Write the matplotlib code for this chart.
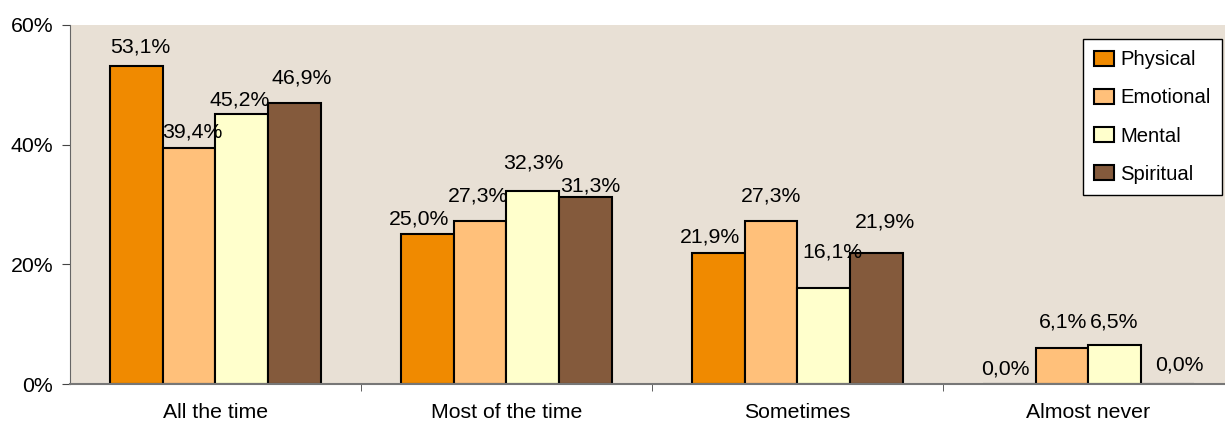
import matplotlib
matplotlib.use("Agg")
import matplotlib.pyplot as plt
import numpy as np

categories = ["All the time", "Most of the time", "Sometimes", "Almost never"]
series_names = ["Physical", "Emotional", "Mental", "Spiritual"]
physical = [53.1, 25.0, 21.9, 0.0]
emotional = [39.4, 27.3, 27.3, 6.1]
mental = [45.2, 32.3, 16.1, 6.5]
spiritual = [46.9, 31.3, 21.9, 0.0]
yticks = [0, 20, 40, 60]

series = [physical, emotional, mental, spiritual]
colors = ["#F08A00", "#FFC07A", "#FFFFCC", "#845A3C"]

# label placement nudges (pixels: dx, gap above bar) mimicking the original's label dodging
label_nudges = [
    [(4, 14), (-8, 10), (-8, 10), (-4, 10)],
    [(3, 11), (-2, 19), (0, 19), (1, 20)],
    [(-2, 8), (0, 22), (8, 30), (-1, 18)],
    [(7, 20), (4, 5), (8, 25), (11, 14)],
]

plt.rcParams['font.family'] = ['Liberation Sans', 'DejaVu Sans']
FS = 15.3
LFS = 14.6
PX = 72 / 100  # points per pixel

fig = plt.figure(figsize=(12.25, 4.23), dpi=100)
W, H = 1225, 423
ax = fig.add_axes([70 / W, 1 - 384 / H, (1225 - 70) / W, (384 - 25) / H])
ax.set_facecolor("#E8E0D5")

x = np.arange(len(categories))
bw = 0.182
for i, (vals, col, name) in enumerate(zip(series, colors, series_names)):
    pos = x + (i - 1.5) * bw
    ax.bar(pos, vals, width=bw, color=col, edgecolor="black", linewidth=1.5, label=name, zorder=2)
    for j, (p, v) in enumerate(zip(pos, vals)):
        dx, g = label_nudges[i][j]
        ax.annotate(f"{v:.1f}%".replace(".", ","), (p, v), xytext=(dx * PX, g * PX),
                    textcoords="offset points", ha="center", va="baseline", fontsize=FS, zorder=3)

ax.set_xlim(-0.5, 3.5 - 9 / 291)
ax.set_ylim(0, 60)
ax.set_yticks(yticks)
ax.set_yticklabels([f"{t}%" for t in yticks], fontsize=FS)
ax.set_xticks(x)
ax.set_xticklabels(categories, fontsize=FS)
ax.tick_params(axis="x", length=0, pad=14)
ax.set_xticks([0.5, 1.5, 2.5], minor=True)
ax.tick_params(axis="x", which="minor", length=5, direction="out", color="#444444")
ax.tick_params(axis="y", length=6, direction="out", color="#444444", pad=6)

for s in ["top", "right"]:
    ax.spines[s].set_visible(False)
ax.spines["left"].set_color("#666666")
ax.spines["bottom"].set_color("#777777")
ax.spines["bottom"].set_linewidth(1.5)

leg = ax.legend(loc="upper right", bbox_to_anchor=((1222 - 70) / (1225 - 70), (384 - 39) / (384 - 25)),
                fontsize=LFS, frameon=True, fancybox=False, edgecolor="black", framealpha=1,
                handlelength=1.0, handleheight=0.75, handletextpad=0.3, labelspacing=0.95,
                borderpad=0.55, borderaxespad=0)
leg.get_frame().set_linewidth(1.0)
leg.get_frame().set_facecolor("white")

fig.savefig("out.png", dpi=100, facecolor="white")
